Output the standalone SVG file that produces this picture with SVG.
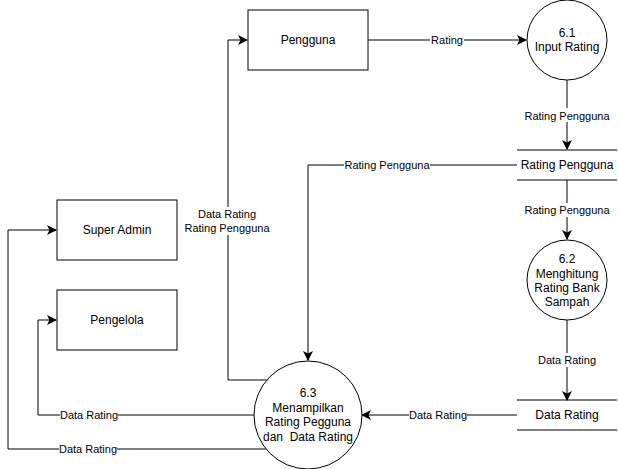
<svg xmlns="http://www.w3.org/2000/svg" width="618" height="469" viewBox="0 0 618 469">
<defs>
<marker id="arr" viewBox="0 0 10 10" refX="9" refY="5" markerWidth="10" markerHeight="10" markerUnits="userSpaceOnUse" orient="auto">
<path d="M0,0 L10,5 L0,10 L2.5,5 Z" fill="#000"/>
</marker>
<style>
.box{fill:#fff;stroke:#000;stroke-width:1}
.ln{fill:none;stroke:#000;stroke-width:1}
.t{font-family:"Liberation Sans",Arial,sans-serif;font-size:12px;fill:#000;text-anchor:middle}
.l{font-family:"Liberation Sans",Arial,sans-serif;font-size:11px;fill:#000;text-anchor:middle}
.bg{fill:#fff}
</style>
</defs>
<rect width="618" height="469" fill="#fff"/>
<g id="connectors">
<path class="ln" d="M368,40 H526" marker-end="url(#arr)"/>
<path class="ln" d="M567,80 V149" marker-end="url(#arr)"/>
<path class="ln" d="M567,180 V239" marker-end="url(#arr)"/>
<path class="ln" d="M567,320 V400" marker-end="url(#arr)"/>
<path class="ln" d="M517,415 H362" marker-end="url(#arr)"/>
<path class="ln" d="M517,165 H308 V360" marker-end="url(#arr)"/>
<path class="ln" d="M267,380 H228 V40 H247" marker-end="url(#arr)"/>
<path class="ln" d="M254,415 H38 V320 H56" marker-end="url(#arr)"/>
<path class="ln" d="M266,449 H8 V230 H56" marker-end="url(#arr)"/>
<rect class="bg" x="430" y="33" width="34" height="14"/>
<text class="l" x="447" y="44">Rating</text>
<rect class="bg" x="524" y="108" width="86" height="14"/>
<text class="l" x="567" y="119.5">Rating Pengguna</text>
<rect class="bg" x="344" y="158" width="86" height="14"/>
<text class="l" x="387" y="169">Rating Pengguna</text>
<rect class="bg" x="524" y="203" width="86" height="14"/>
<text class="l" x="567" y="214">Rating Pengguna</text>
<rect class="bg" x="538" y="353" width="58" height="14"/>
<text class="l" x="567" y="364">Data Rating</text>
<rect class="bg" x="409" y="408" width="58" height="14"/>
<text class="l" x="438" y="419">Data Rating</text>
<rect class="bg" x="60" y="408" width="58" height="14"/>
<text class="l" x="89" y="419">Data Rating</text>
<rect class="bg" x="59" y="442" width="58" height="14"/>
<text class="l" x="88" y="453">Data Rating</text>
<rect class="bg" x="184" y="207" width="86" height="28"/>
<text class="l" x="227" y="218">Data Rating</text>
<text class="l" x="227" y="232">Rating Pengguna</text>
</g>
<g id="pengguna">
<rect class="box" x="248" y="10" width="120" height="60"/>
<text class="t" x="308" y="44">Pengguna</text>
</g>
<g id="super-admin">
<rect class="box" x="57" y="200" width="120" height="60"/>
<text class="t" x="117" y="234">Super Admin</text>
</g>
<g id="pengelola">
<rect class="box" x="57" y="290" width="120" height="60"/>
<text class="t" x="117" y="324">Pengelola</text>
</g>
<g id="p61">
<circle class="box" cx="567" cy="40" r="40"/>
<text class="t" x="567" y="37">6.1</text>
<text class="t" x="567" y="51">Input Rating</text>
</g>
<g id="ds-rating-pengguna">
<line class="ln" x1="517" y1="150" x2="617" y2="150"/>
<line class="ln" x1="517" y1="180" x2="617" y2="180"/>
<text class="t" x="567" y="169">Rating Pengguna</text>
</g>
<g id="p62">
<circle class="box" cx="567" cy="280" r="40"/>
<text class="t" x="567" y="263">6.2</text>
<text class="t" x="567" y="277.5">Menghitung</text>
<text class="t" x="567" y="291.5">Rating Bank</text>
<text class="t" x="567" y="306">Sampah</text>
</g>
<g id="ds-data-rating">
<line class="ln" x1="517" y1="400" x2="617" y2="400"/>
<line class="ln" x1="517" y1="430" x2="617" y2="430"/>
<text class="t" x="567" y="419">Data Rating</text>
</g>
<g id="p63">
<circle class="box" cx="308" cy="415" r="54"/>
<text class="t" x="308" y="396.5">6.3</text>
<text class="t" x="308" y="411.5">Menampilkan</text>
<text class="t" x="308" y="426">Rating Pegguna</text>
<text class="t" x="308" y="441" xml:space="preserve">dan  Data Rating</text>
</g>
</svg>
